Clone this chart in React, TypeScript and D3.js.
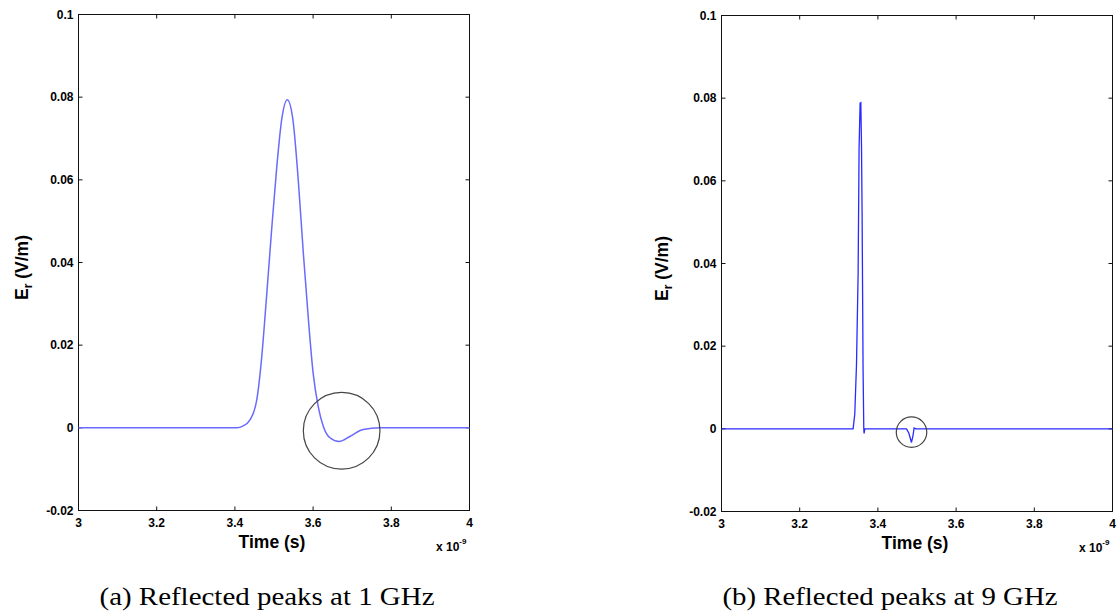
import React from "react";
import * as d3 from "d3";

// ---- data (time in ns, i.e. x 10^-9 s; field in V/m) ----
const leftTime = [3.0, 3.405, 3.42, 3.439, 3.456, 3.468, 3.481, 3.494, 3.507, 3.52, 3.534, 3.548, 3.562, 3.575, 3.588, 3.6, 3.613, 3.626, 3.643, 3.667, 3.694, 3.728, 3.771, 4.0];
const leftEr = [0, 0, 0.0004, 0.002, 0.0068, 0.0165, 0.0318, 0.048, 0.063, 0.0748, 0.0794, 0.0748, 0.06, 0.0423, 0.0262, 0.0133, 0.0052, 0.0004, -0.0024, -0.0033, -0.0021, -0.0004, 0, 0];

const rightTime = [3.0, 3.3366, 3.3409, 3.3453, 3.3494, 3.3519, 3.3545, 3.3563, 3.3581, 3.3596, 3.3621, 3.3639, 3.3647, 3.3665, 3.4731, 3.479, 3.4859, 3.49, 3.4926, 3.497, 4.0];
const rightEr = [0, 0, 0.0036, 0.0157, 0.0375, 0.0681, 0.0788, 0.0789, 0.0681, 0.052, 0.0141, 0, -0.0011, 0, 0, -0.001, -0.0033, -0.0015, 0.0002, 0, 0];

// highlighted regions: [centre time, centre field, radius in time units]
const leftCircle = [3.673, -0.0007, 0.098];
const rightCircle = [3.486, -0.0008, 0.039];

const xTicks = [3, 3.2, 3.4, 3.6, 3.8, 4];
const yTicks = [-0.02, 0, 0.02, 0.04, 0.06, 0.08, 0.1];
const xTickLabels = ["3", "3.2", "3.4", "3.6", "3.8", "4"];
const yTickLabels = ["-0.02", "0", "0.02", "0.04", "0.06", "0.08", "0.1"];
const captions = ["(a) Reflected peaks at 1 GHz", "(b) Reflected peaks at 9 GHz"];

const SANS = "'Liberation Sans', Arial, sans-serif";

type PanelProps = {
  x0: number; x1: number; y0: number; y1: number;
  t: number[]; v: number[]; circle: number[];
  stroke: string; width: number; curve: any;
  ylabelX: number; caption: string; captionX: number;
};

function Panel(p: PanelProps) {
  const x = d3.scaleLinear().domain([3, 4]).range([p.x0, p.x1]);
  const y = d3.scaleLinear().domain([-0.02, 0.1]).range([p.y1, p.y0]);
  const pts = p.t.map((tt, i) => [tt, p.v[i]] as [number, number]);
  const line = d3.line<[number, number]>().x(d => x(d[0])).y(d => y(d[1])).curve(p.curve);
  const tl = 4;
  const cx = (p.x0 + p.x1) / 2;
  const cy = (p.y0 + p.y1) / 2;
  const r = x(p.circle[2] + 3) - x(3);
  return (
    <g>
      <rect x={p.x0} y={p.y0} width={p.x1 - p.x0} height={p.y1 - p.y0} fill="#fff" stroke="#111" strokeWidth={1} />
      {xTicks.map((tk, i) => (
        <g key={"xt" + i}>
          <line x1={x(tk)} x2={x(tk)} y1={p.y1} y2={p.y1 - tl} stroke="#111" />
          <line x1={x(tk)} x2={x(tk)} y1={p.y0} y2={p.y0 + tl} stroke="#111" />
          <text x={x(tk)} y={p.y1 + 16} textAnchor="middle" fontFamily={SANS} fontWeight="bold" fontSize={12}>{xTickLabels[i]}</text>
        </g>
      ))}
      {yTicks.map((tk, i) => (
        <g key={"yt" + i}>
          <line x1={p.x0} x2={p.x0 + tl} y1={y(tk)} y2={y(tk)} stroke="#111" />
          <line x1={p.x1} x2={p.x1 - tl} y1={y(tk)} y2={y(tk)} stroke="#111" />
          <text x={p.x0 - 5} y={y(tk)} dy="0.36em" textAnchor="end" fontFamily={SANS} fontWeight="bold" fontSize={12}>{yTickLabels[i]}</text>
        </g>
      ))}
      <path d={line(pts) || ""} fill="none" stroke={p.stroke} strokeWidth={p.width} />
      <circle cx={x(p.circle[0])} cy={y(p.circle[1])} r={r} fill="none" stroke="#444" strokeWidth={1.2} />
      <text x={cx - 2} y={p.y1 + 37} textAnchor="middle" fontFamily={SANS} fontWeight="bold" fontSize={17.5}>Time (s)</text>
      <text x={p.x1 - 33.5} y={p.y1 + 40} fontFamily={SANS} fontWeight="bold" fontSize={12}>
        x 10<tspan dy={-7} fontSize={8}>-9</tspan>
      </text>
      <text transform={`translate(${p.ylabelX},${cy + 5}) rotate(-90)`} textAnchor="middle" fontFamily={SANS} fontWeight="bold" fontSize={17.5}>
        E<tspan dy={4} fontSize={12}>r</tspan><tspan dy={-4}> (V/m)</tspan>
      </text>
      <text x={p.captionX} y={605} textAnchor="middle" textLength={335} lengthAdjust="spacingAndGlyphs"
        fontFamily="'Liberation Serif', 'Times New Roman', serif" fontSize={26}>{p.caption}</text>
    </g>
  );
}

export default function App() {
  return (
    <svg width={1120} height={616} style={{ position: "absolute", left: 0, top: 0, background: "#fff" }}>
      <rect x={0} y={0} width={1120} height={616} fill="#fff" />
      <Panel x0={78.5} x1={469.5} y0={14.5} y1={510.5} t={leftTime} v={leftEr} circle={leftCircle}
        stroke="#6a6aff" width={1.5} curve={d3.curveMonotoneX} ylabelX={28} caption={captions[0]} captionX={267} />
      <Panel x0={721.5} x1={1112.5} y0={15.5} y1={511.5} t={rightTime} v={rightEr} circle={rightCircle}
        stroke="#2a2aff" width={1.3} curve={d3.curveLinear} ylabelX={668} caption={captions[1]} captionX={890} />
    </svg>
  );
}
